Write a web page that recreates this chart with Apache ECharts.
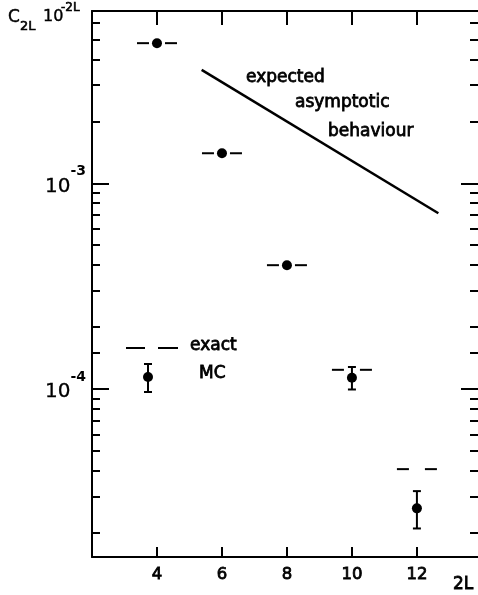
<!DOCTYPE html>
<html><head><meta charset="utf-8">
<script src="https://cdn.jsdelivr.net/npm/echarts@6/dist/echarts.min.js"></script>
<style>html,body{margin:0;padding:0;background:#fff}#c{width:478px;height:595px}</style>
</head><body><div id="c"></div>
<script>
// ---- data ----
const xTicks = [4, 6, 8, 10, 12];
const mcX = [4, 6, 8, 10, 12];
const mcY = [4.8e-3, 1.40e-3, 4.0e-4, 1.135e-4, 2.63e-5];
const errX = [10, 12];
const errLow = [0.995e-4, 2.10e-5];
const errHigh = [1.28e-4, 3.19e-5];
const exactX = [4, 6, 8, 10, 12];
const exactY = [4.8e-3, 1.40e-3, 4.0e-4, 1.24e-4, 4.08e-5];
const asymX = [5.375, 12.66];
const asymY = [3.56e-3, 7.15e-4];
const yMajor = [1e-3, 1e-4];
const yMinor = [2e-3, 3e-3, 4e-3, 5e-3, 6e-3,
  2e-4, 3e-4, 4e-4, 5e-4, 6e-4, 7e-4, 8e-4, 9e-4, 1.5e-4,
  2e-5, 3e-5, 4e-5, 5e-5, 6e-5, 7e-5, 8e-5, 9e-5];
const xMin = 2, xMax = 13.88;
const yMin = 1.526e-5, yMax = 6.88e-3;

const F = 'DejaVu Sans';
const K = '#000';

function xAx(pos, tickLen, showLabel) {
  return {
    type: 'value', position: pos, min: xMin, max: xMax, interval: 2,
    axisLine: { show: true, onZero: false, lineStyle: { color: K, width: 2 } },
    axisTick: { show: true, inside: true, length: tickLen, customValues: xTicks, lineStyle: { color: K, width: 2 } },
    axisLabel: { show: showLabel, customValues: xTicks, margin: 9, color: K, fontSize: 16.5, fontFamily: F,
      textBorderColor: K, textBorderWidth: 0.8 },
    splitLine: { show: false }
  };
}
function yAx(pos, ticks, len, showLine, showLabel) {
  return {
    type: 'log', logBase: 10, position: pos, min: yMin, max: yMax,
    axisLine: { show: showLine, onZero: false, lineStyle: { color: K, width: 2 } },
    axisTick: { show: true, inside: true, length: len, customValues: ticks, lineStyle: { color: K, width: 2 } },
    axisLabel: {
      show: showLabel, customValues: yMajor, margin: 6, padding: [6, 0, 0, 0],
      formatter: v => '{b|10}{s|-' + Math.round(-Math.log10(v)) + '}',
      rich: {
        b: { fontSize: 20, fontFamily: F, color: K, lineHeight: 44, textBorderColor: K, textBorderWidth: 0.3 },
        s: { fontSize: 14, fontFamily: F, fontWeight: 'bold', color: K, verticalAlign: 'top' }
      }
    },
    splitLine: { show: false }
  };
}

const chart = echarts.init(document.getElementById('c'), null, { renderer: 'canvas' });

function txt(x, y, s, size, bw) {
  return { type: 'text', x: x, y: y, z: 10,
    style: { text: s, fill: K, fontSize: size, fontFamily: F, textAlign: 'left', textVerticalAlign: 'middle',
      stroke: K, lineWidth: bw == null ? 0.8 : bw } };
}

chart.setOption({
  animation: false,
  backgroundColor: '#fff',
  grid: { left: 92, right: 0, top: 11, bottom: 38, containLabel: false },
  xAxis: [xAx('bottom', 10, true), xAx('top', 14, false)],
  yAxis: [
    yAx('left', yMajor, 17, true, true),
    yAx('left', yMinor, 8, false, false),
    yAx('right', yMajor, 17, false, false),
    yAx('right', yMinor, 8, false, false)
  ],
  series: [
    {
      type: 'line', xAxisIndex: 0, yAxisIndex: 0, symbol: 'none',
      data: asymX.map((x, i) => [x, asymY[i]]),
      lineStyle: { color: K, width: 2.5 }
    },
    {
      type: 'custom', xAxisIndex: 0, yAxisIndex: 0,
      data: exactX.map((x, i) => [x, exactY[i]]),
      encode: { x: 0, y: 1 },
      renderItem: (params, api) => {
        const p = api.coord([api.value(0), api.value(1)]);
        const st = { stroke: K, lineWidth: 2 };
        return { type: 'group', children: [
          { type: 'line', shape: { x1: p[0] - 20, y1: p[1], x2: p[0] - 8, y2: p[1] }, style: st },
          { type: 'line', shape: { x1: p[0] + 8, y1: p[1], x2: p[0] + 20, y2: p[1] }, style: st }
        ] };
      }
    },
    {
      type: 'custom', xAxisIndex: 0, yAxisIndex: 0,
      data: errX.map((x, i) => [x, errLow[i], errHigh[i]]),
      encode: { x: 0, y: [1, 2] },
      renderItem: (params, api) => {
        const lo = api.coord([api.value(0), api.value(1)]);
        const hi = api.coord([api.value(0), api.value(2)]);
        const st = { stroke: K, lineWidth: 2 };
        return { type: 'group', children: [
          { type: 'line', shape: { x1: lo[0], y1: lo[1], x2: hi[0], y2: hi[1] }, style: st },
          { type: 'line', shape: { x1: lo[0] - 4, y1: lo[1], x2: lo[0] + 4, y2: lo[1] }, style: st },
          { type: 'line', shape: { x1: hi[0] - 4, y1: hi[1], x2: hi[0] + 4, y2: hi[1] }, style: st }
        ] };
      }
    },
    {
      type: 'scatter', xAxisIndex: 0, yAxisIndex: 0, symbol: 'circle', symbolSize: 10,
      itemStyle: { color: K, opacity: 1 }, z: 5,
      data: mcX.map((x, i) => [x, mcY[i]])
    }
  ],
  graphic: [
    txt(8, 18, 'C', 17, 0.4), txt(20, 27, '2L', 13, 0.6), txt(43, 17, '10', 16, 0.4), txt(61, 8, '-2L', 12, 0.6),
    txt(246, 78, 'expected', 17), txt(295, 103, 'asymptotic', 17), txt(328, 132, 'behaviour', 17),
    txt(190, 346, 'exact', 17), txt(199, 374, 'MC', 17),
    txt(453, 585, '2L', 17),
    { type: 'line', shape: { x1: 126, y1: 348, x2: 145, y2: 348 }, style: { stroke: K, lineWidth: 2 } },
    { type: 'line', shape: { x1: 158, y1: 348, x2: 178, y2: 348 }, style: { stroke: K, lineWidth: 2 } },
    { type: 'line', shape: { x1: 148, y1: 364, x2: 148, y2: 392 }, style: { stroke: K, lineWidth: 2 } },
    { type: 'line', shape: { x1: 144, y1: 364, x2: 152, y2: 364 }, style: { stroke: K, lineWidth: 2 } },
    { type: 'line', shape: { x1: 144, y1: 392, x2: 152, y2: 392 }, style: { stroke: K, lineWidth: 2 } },
    { type: 'circle', shape: { cx: 148, cy: 377, r: 5 }, style: { fill: K } }
  ]
});
</script></body></html>
